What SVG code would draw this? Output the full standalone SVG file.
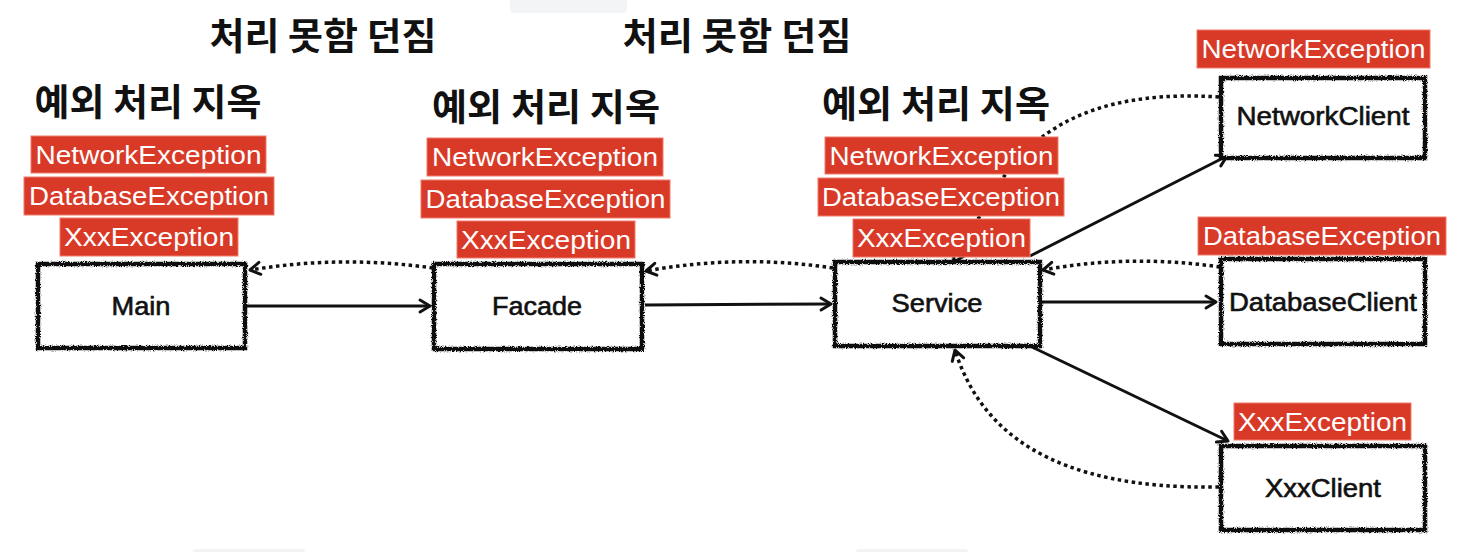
<svg xmlns="http://www.w3.org/2000/svg" width="1462" height="552" viewBox="0 0 1462 552">
<style>
.h{font-family:"Noto Sans CJK KR","Noto Sans",sans-serif;font-weight:700;font-size:37px;fill:#111;text-anchor:middle}
.lab rect{fill:#D93A28;stroke:#F07A6A;stroke-width:1}
.lab text{font-family:"Liberation Sans",Arial,sans-serif;font-size:26px;fill:#fff;text-anchor:middle}
.node rect.f{fill:#fff}
.node rect.b{fill:none;stroke:#111;stroke-width:4.5;filter:url(#rough)}
.node text{font-family:"Liberation Sans",Arial,sans-serif;font-size:25px;fill:#111;stroke:#111;stroke-width:0.6;text-anchor:middle}
.sol{fill:none;stroke:#111;stroke-width:3;marker-end:url(#ah)}
.dot{fill:none;stroke:#111;stroke-width:3.5;stroke-dasharray:3.5 3.5;marker-end:url(#ah)}
</style>
<defs>
<filter id="rough" x="-5%" y="-10%" width="110%" height="120%">
<feTurbulence type="fractalNoise" baseFrequency="1.1" numOctaves="2" seed="3" result="n"/>
<feDisplacementMap in="SourceGraphic" in2="n" scale="4" xChannelSelector="R" yChannelSelector="G"/>
</filter>
<marker id="ah" markerUnits="userSpaceOnUse" markerWidth="16" markerHeight="18" refX="11" refY="7" orient="auto" overflow="visible">
<path d="M1,1 L11,7 L1,13" fill="none" stroke="#111" stroke-width="3" stroke-linecap="round" stroke-linejoin="round"/>
</marker>
</defs>
<rect width="1462" height="552" fill="#fff"/>
<path d="M510,0 H627 V8 Q627,13 622,13 H515 Q510,13 510,8 Z" fill="#f3f4f6"/>
<rect x="193" y="549" width="112" height="6" rx="3" fill="#f3f3f3"/>
<rect x="856" y="549" width="112" height="6" rx="3" fill="#f3f3f3"/>

<g id="headings">
<text class="h" x="323" y="50" textLength="227" lengthAdjust="spacingAndGlyphs">처리 못함 던짐</text>
<text class="h" x="737" y="50" textLength="229" lengthAdjust="spacingAndGlyphs">처리 못함 던짐</text>
<text class="h" x="148" y="116" textLength="227" lengthAdjust="spacingAndGlyphs">예외 처리 지옥</text>
<text class="h" x="546" y="121" textLength="228" lengthAdjust="spacingAndGlyphs">예외 처리 지옥</text>
<text class="h" x="936" y="118" textLength="228" lengthAdjust="spacingAndGlyphs">예외 처리 지옥</text>
</g>

<g id="connectors">
<path class="sol" d="M247,306 L430,306"/>
<path class="dot" d="M433,268 Q341,255 250,270"/>
<path class="sol" d="M645,305 L831,304"/>
<path class="dot" d="M833,268 Q740,254 646,271"/>
<path class="sol" d="M1030,256 L1227,156"/>
<path class="dot" d="M1219,97 C1110,90 1045,120 1005,175 Q985,205 954,262"/>
<path class="sol" d="M1042,302 L1216,302"/>
<path class="dot" d="M1220,267 Q1130,254 1043,270"/>
<path class="sol" d="M1032,347 L1228,441"/>
<path class="dot" d="M1219,487 C1050,490 980,430 955,350"/>
</g>

<g id="node-main" class="node">
<rect class="f" x="38" y="264" width="207" height="84"/>
<rect class="b" x="38" y="264" width="207" height="84"/>
<text x="141" y="315" textLength="59" lengthAdjust="spacingAndGlyphs">Main</text>
</g>
<g id="node-facade" class="node">
<rect class="f" x="434" y="264" width="208" height="85"/>
<rect class="b" x="434" y="264" width="208" height="85"/>
<text x="537" y="315" textLength="90" lengthAdjust="spacingAndGlyphs">Facade</text>
</g>
<g id="node-service" class="node">
<rect class="f" x="835" y="262" width="205" height="84"/>
<rect class="b" x="835" y="262" width="205" height="84"/>
<text x="937" y="312" textLength="91" lengthAdjust="spacingAndGlyphs">Service</text>
</g>
<g id="node-networkclient" class="node">
<rect class="f" x="1221" y="78" width="204" height="80"/>
<rect class="b" x="1221" y="78" width="204" height="80"/>
<text x="1323" y="125" textLength="173" lengthAdjust="spacingAndGlyphs">NetworkClient</text>
</g>
<g id="node-databaseclient" class="node">
<rect class="f" x="1221" y="259" width="204" height="85"/>
<rect class="b" x="1221" y="259" width="204" height="85"/>
<text x="1323" y="311" textLength="188" lengthAdjust="spacingAndGlyphs">DatabaseClient</text>
</g>
<g id="node-xxxclient" class="node">
<rect class="f" x="1221" y="446" width="204" height="84"/>
<rect class="b" x="1221" y="446" width="204" height="84"/>
<text x="1323" y="497" textLength="116" lengthAdjust="spacingAndGlyphs">XxxClient</text>
</g>

<g id="labels-main" class="lab">
<rect x="31" y="136" width="235" height="37"/>
<text x="148.5" y="164" textLength="226" lengthAdjust="spacingAndGlyphs">NetworkException</text>
<rect x="24" y="177" width="250" height="38"/>
<text x="149" y="205" textLength="240" lengthAdjust="spacingAndGlyphs">DatabaseException</text>
<rect x="60" y="218" width="178" height="38"/>
<text x="149" y="246" textLength="170" lengthAdjust="spacingAndGlyphs">XxxException</text>
</g>
<g id="labels-facade" class="lab">
<rect x="427" y="138" width="236" height="38"/>
<text x="545" y="166" textLength="226" lengthAdjust="spacingAndGlyphs">NetworkException</text>
<rect x="421" y="180" width="249" height="38"/>
<text x="545.5" y="208" textLength="240" lengthAdjust="spacingAndGlyphs">DatabaseException</text>
<rect x="457" y="221" width="178" height="37"/>
<text x="546" y="249" textLength="170" lengthAdjust="spacingAndGlyphs">XxxException</text>
</g>
<g id="labels-service" class="lab">
<rect x="825" y="137" width="233" height="37"/>
<text x="941.5" y="165" textLength="224" lengthAdjust="spacingAndGlyphs">NetworkException</text>
<rect x="818" y="178" width="246" height="38"/>
<text x="941" y="206" textLength="238" lengthAdjust="spacingAndGlyphs">DatabaseException</text>
<rect x="853" y="219" width="177" height="38"/>
<text x="941.5" y="247" textLength="169" lengthAdjust="spacingAndGlyphs">XxxException</text>
</g>
<g id="label-networkclient" class="lab">
<rect x="1197" y="30" width="233" height="38"/>
<text x="1313.5" y="58" textLength="224" lengthAdjust="spacingAndGlyphs">NetworkException</text>
</g>
<g id="label-databaseclient" class="lab">
<rect x="1198" y="217" width="248" height="38"/>
<text x="1322" y="245" textLength="238" lengthAdjust="spacingAndGlyphs">DatabaseException</text>
</g>
<g id="label-xxxclient" class="lab">
<rect x="1234" y="403" width="177" height="37"/>
<text x="1322.5" y="431" textLength="169" lengthAdjust="spacingAndGlyphs">XxxException</text>
</g>
</svg>
